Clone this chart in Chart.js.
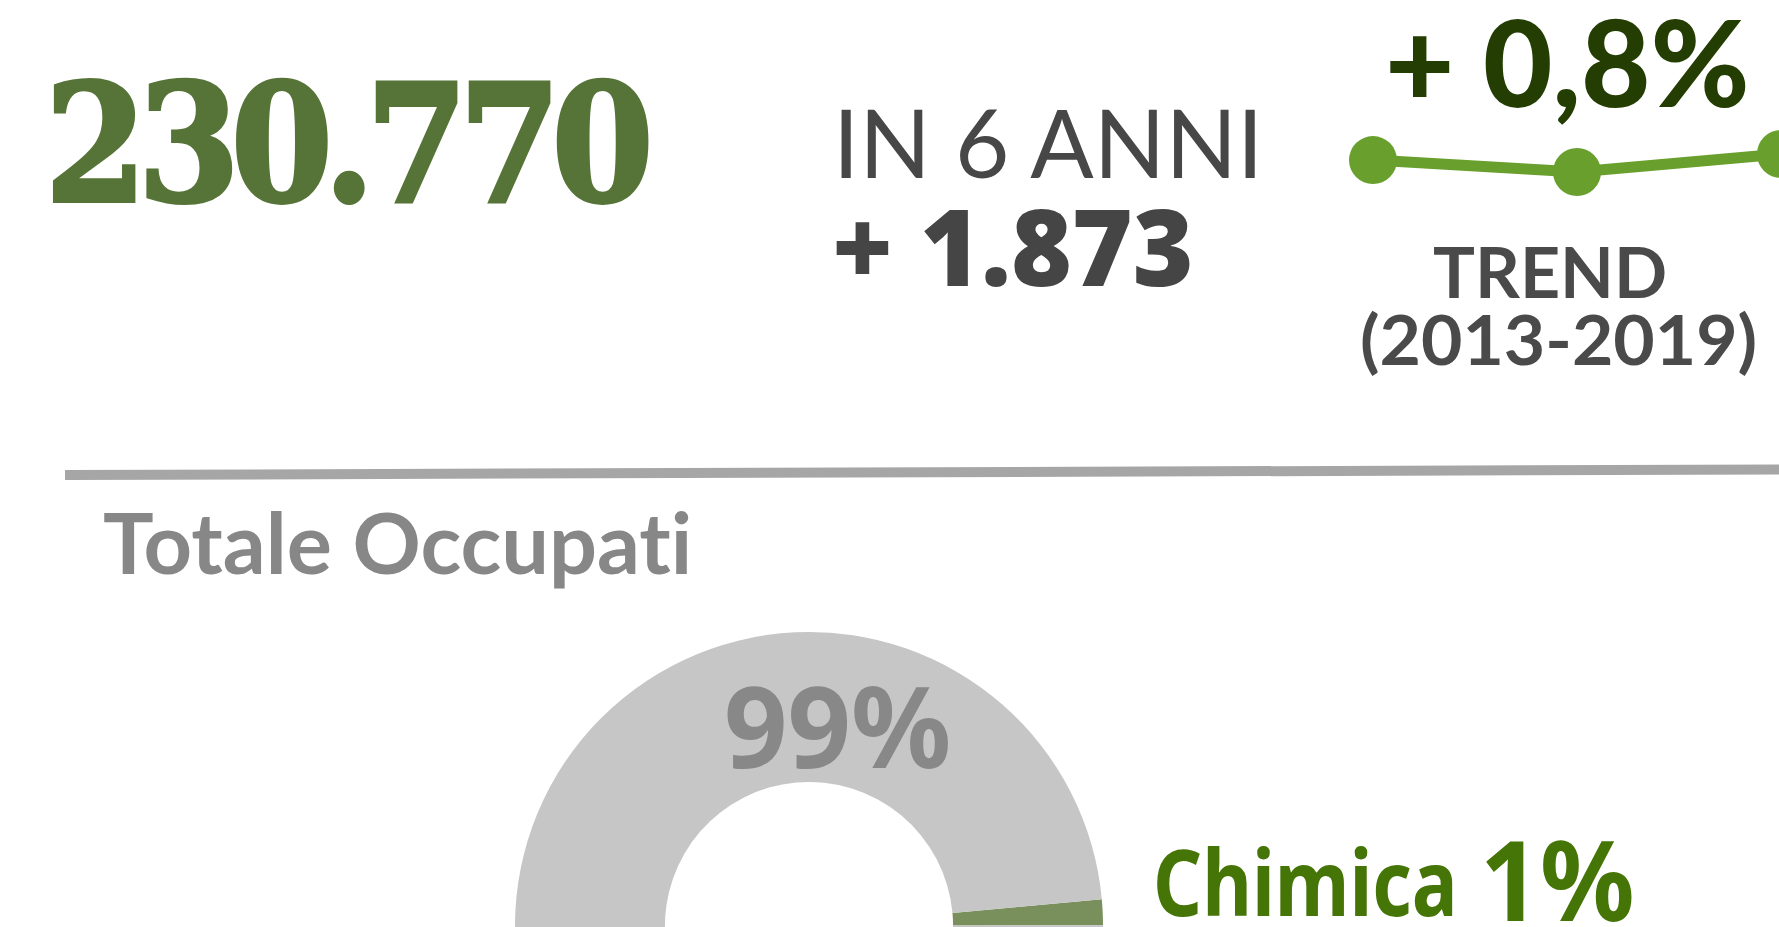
<!DOCTYPE html>
<html><head><meta charset="utf-8">
<script src="https://cdn.jsdelivr.net/npm/chart.js@4.4.1/dist/chart.umd.min.js"></script>
<style>
html,body{margin:0;padding:0;width:1779px;height:927px;overflow:hidden;background:#fff;}
body{position:relative;}
.t{position:absolute;white-space:nowrap;transform-origin:0 0;}
#rule{position:absolute;left:65px;top:470px;width:1730px;height:10px;background:#a6a6a6;transform-origin:0 50%;transform:rotate(-0.184deg);}
#trend{position:absolute;left:1343px;top:100px;}
#donut{position:absolute;left:509px;top:626px;}
</style></head><body>
<div id="rule"></div>
<canvas id="trend" width="468" height="120"></canvas>
<canvas id="donut" width="600" height="600"></canvas>
<script>
// ---- data ----
const totalOccupati = '230.770';
const variationLabel = 'IN 6 ANNI';
const variationValue = '+ 1.873';
const trendPct = '+ 0,8%';
const trendTitle = 'TREND';
const trendPeriod = '(2013-2019)';
const sectionTitle = 'Totale Occupati';
const trendYears = ['2013', '2014', '2015'];
const trendValues = [228.897, 228.3, 229.2]; // occupati, migliaia
const sectorLabels = ['Chimica', 'Altri settori'];
const sectorShares = [1.4, 98.6];
const sectorShareLabels = ['1%', '99%'];

// ---- text ----
const texts = [
  {text: totalOccupati, family: '"DejaVu Serif"', weight: 700, h: 120, x: 52, y: 201, w: 597, color: '#567437', stroke: 4, ls: -0.06},
  {text: variationLabel, family: 'Lato', weight: 400, h: 70, x: 841, y: 178, w: 418, color: '#474747'},
  {text: variationValue, family: '"Noto Sans"', weight: 900, h: 76, x: 836, y: 286, w: 354, color: '#454545'},
  {text: trendPct, family: 'Lato', weight: 900, h: 87, x: 1390, y: 107, w: 356, color: '#233d03'},
  {text: trendTitle, family: 'Lato', weight: 700, h: 51, x: 1434, y: 298, w: 231, color: '#4a4a4a'},
  {text: trendPeriod, family: 'Lato', weight: 700, h: 55, x: 1362, y: 365, w: 393, color: '#4a4a4a'},
  {text: sectionTitle, family: 'Lato', weight: 700, h: 63, x: 104, y: 574, w: 587, color: '#878787'},
  {text: sectorShareLabels[1], family: '"Noto Sans"', weight: 700, h: 82, x: 727, y: 768, w: 221, color: '#888888'},
  {text: sectorLabels[0], family: '"Noto Sans"', weight: 700, h: 70, x: 1157, y: 916, w: 295, color: '#457506'},
  {text: sectorShareLabels[0], family: '"Noto Sans"', weight: 700, h: 81, x: 1486, y: 921, w: 146, color: '#457506'}
];

function placeText(s) {
  const ctx = document.createElement('canvas').getContext('2d');
  ctx.font = `${s.weight} 100px ${s.family}`;
  const m0 = ctx.measureText(s.text);
  const size = 100 * s.h / m0.actualBoundingBoxAscent;
  const font = `${s.weight} ${size}px ${s.family}`;
  ctx.font = font;
  const lsPx = (s.ls || 0) * size;
  let lsOk = false;
  if (lsPx && 'letterSpacing' in ctx) { ctx.letterSpacing = lsPx + 'px'; lsOk = true; }
  const m = ctx.measureText(s.text);
  const st = s.stroke || 0;
  let ink = m.actualBoundingBoxLeft + m.actualBoundingBoxRight + st;
  if (lsPx && !lsOk) { ink += lsPx * (s.text.length - 1); }
  const sx = s.w / ink;
  const d = document.createElement('div');
  d.className = 't';
  d.style.font = font;
  d.style.lineHeight = '0.7';
  if (lsPx) d.style.letterSpacing = lsPx + 'px';
  d.style.fontVariantLigatures = 'none';
  d.style.fontFeatureSettings = '"liga" 0, "clig" 0, "dlig" 0, "calt" 0';
  d.style.color = s.color;
  if (st) { d.style.webkitTextStroke = st + 'px ' + s.color; }
  d.appendChild(document.createTextNode(s.text));
  const mk = document.createElement('span');
  mk.style.cssText = 'display:inline-block;width:0;height:0;vertical-align:baseline';
  d.appendChild(mk);
  d.style.left = '0px'; d.style.top = '0px';
  document.body.appendChild(d);
  const base = mk.getBoundingClientRect().top - d.getBoundingClientRect().top;
  d.style.transform = `scaleX(${sx})`;
  d.style.left = (s.x + (m.actualBoundingBoxLeft + st / 2) * sx) + 'px';
  d.style.top = (s.y - base) + 'px';
}

function build() {
  texts.forEach(placeText);

  new Chart(document.getElementById('trend'), {
    type: 'line',
    data: {
      labels: trendYears,
      datasets: [{
        data: trendValues,
        borderColor: '#699f2c',
        backgroundColor: '#699f2c',
        pointBackgroundColor: '#699f2c',
        borderWidth: 11,
        pointRadius: 24,
        pointHoverRadius: 24,
        pointBorderWidth: 0,
        tension: 0,
        clip: false
      }]
    },
    options: {
      responsive: false,
      animation: false,
      devicePixelRatio: 1,
      layout: {padding: {left: 30, right: 30, top: 30, bottom: 30}},
      scales: {
        x: {display: false, offset: false},
        y: {display: false, min: 227.4, max: 230.4}
      },
      plugins: {legend: {display: false}, tooltip: {enabled: false}}
    }
  });

  new Chart(document.getElementById('donut'), {
    type: 'doughnut',
    data: {
      labels: sectorLabels,
      datasets: [{
        data: sectorShares,
        backgroundColor: ['#798f5c', '#c6c6c6'],
        borderWidth: 0,
        hoverOffset: 0,
        offset: 0
      }]
    },
    options: {
      responsive: false,
      animation: false,
      devicePixelRatio: 1,
      rotation: 84.8,
      radius: 294,
      cutout: 147,
      layout: {padding: 0},
      plugins: {legend: {display: false}, tooltip: {enabled: false}}
    }
  });
}

if (document.fonts && document.fonts.ready) {
  Promise.all([
    document.fonts.load('400 70px Lato'), document.fonts.load('700 70px Lato'), document.fonts.load('900 70px Lato'),
    document.fonts.load('700 70px "Noto Sans"'), document.fonts.load('900 70px "Noto Sans"'),
    document.fonts.load('700 70px "DejaVu Serif"')
  ]).catch(() => {}).then(() => document.fonts.ready).then(build);
} else { build(); }
</script>
</body></html>
